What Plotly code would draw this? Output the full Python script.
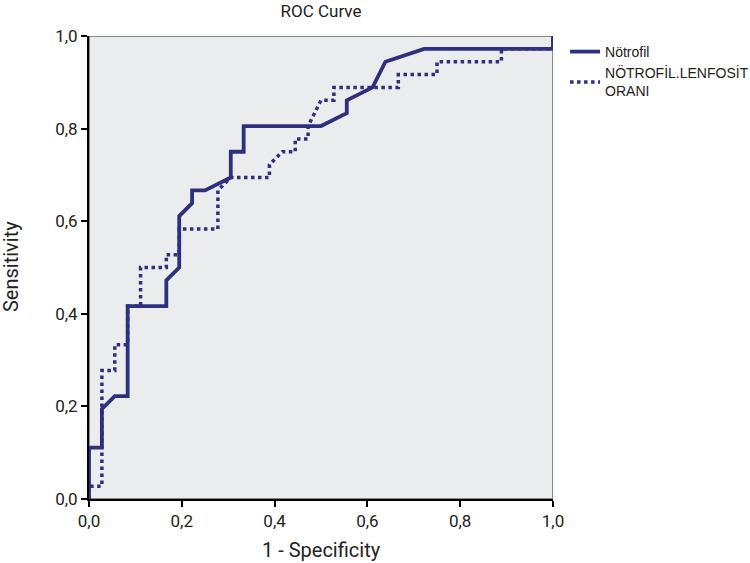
import plotly.graph_objects as go

# ROC data (n = 36 steps)
notrofil_fpr = [0, 0, 1, 1, 2, 3, 3, 6, 6, 7, 7, 8, 8, 9, 11, 11, 12, 12, 18, 20, 20, 22, 23, 26, 36, 36]
notrofil_tpr = [0, 4, 4, 7, 8, 8, 15, 15, 17, 18, 22, 23, 24, 24, 25, 27, 27, 29, 29, 30, 31, 32, 34, 35, 35, 36]
nlr_fpr = [0, 0, 1, 1, 2, 2, 3, 3, 4, 4, 6, 6, 7, 7, 10, 10, 11, 14, 14, 15, 16, 16, 17, 17, 18, 19, 19, 24, 24, 27, 27, 32, 32, 36, 36]
nlr_tpr = [0, 1, 1, 10, 10, 12, 12, 15, 15, 18, 18, 19, 19, 21, 21, 24, 25, 25, 26, 27, 27, 28, 28, 29, 31, 31, 32, 32, 33, 33, 34, 34, 35, 35, 36]
N = 36.0

tick_vals = [0, 0.2, 0.4, 0.6, 0.8, 1.0]
tick_text = ["0,0", "0,2", "0,4", "0,6", "0,8", "1,0"]

navy = "#2f2f80"
cond = "Roboto, sans-serif"
txt = "#222222"

fig = go.Figure()
fig.add_trace(go.Scatter(
    x=[v / N for v in notrofil_fpr], y=[v / N for v in notrofil_tpr],
    mode="lines", name="Nötrofil",
    line=dict(color=navy, width=3.8), showlegend=True))
fig.add_trace(go.Scatter(
    x=[v / N for v in nlr_fpr], y=[v / N for v in nlr_tpr],
    mode="lines", name="NÖTROFİL.LENFOSİT<br>ORANI",
    line=dict(color=navy, width=3.5, dash="dot")))

# frame
fig.add_shape(type="rect", xref="x", yref="y", x0=0, x1=1, y0=0, y1=1,
              line=dict(color="#8a8a8a", width=2), layer="below")

fig.update_layout(
    width=750, height=563,
    margin=dict(l=89, r=197, t=36, b=64, autoexpand=False),
    paper_bgcolor="white", plot_bgcolor="#ebecee",
    title=dict(text="ROC Curve", x=(89 + 553) / 2 / 750, xanchor="center",
               y=1 - 11 / 563, yanchor="middle",
               font=dict(family=cond, size=17, color=txt)),
    legend=dict(x=1.026, y=1.0, xanchor="left", yanchor="top",
                font=dict(family="Liberation Sans, Arial, sans-serif", size=14, color=txt),
                bgcolor="rgba(0,0,0,0)", tracegroupgap=2, itemwidth=30),
    showlegend=True,
    annotations=[
        dict(text="1 - Specificity", xref="paper", yref="paper", x=0.5, y=(499 - 550) / 463,
             xanchor="center", yanchor="middle", showarrow=False,
             font=dict(family=cond, size=20, color=txt)),
        dict(text="Sensitivity", xref="paper", yref="paper", x=(11 - 89) / 464, y=0.501,
             xanchor="center", yanchor="middle", showarrow=False, textangle=-90,
             font=dict(family=cond, size=20, color=txt)),
    ],
)
fig.update_xaxes(range=[0, 1], tickvals=tick_vals, ticktext=tick_text, automargin=False,
                 showgrid=False, zeroline=False, showline=True, linecolor="black", linewidth=2,
                 ticks="outside", ticklen=6, tickcolor="black", tickwidth=2,
                 tickfont=dict(family=cond, size=17, color=txt))
fig.update_yaxes(range=[0, 1], tickvals=tick_vals, ticktext=tick_text, automargin=False,
                 showgrid=False, zeroline=False, showline=True, linecolor="black", linewidth=2,
                 ticks="outside", ticklen=6, tickcolor="black", tickwidth=2,
                 tickfont=dict(family=cond, size=17, color=txt))

fig.write_html("out.html", config={"displayModeBar": False},
               post_script="document.body.style.margin='0';")
